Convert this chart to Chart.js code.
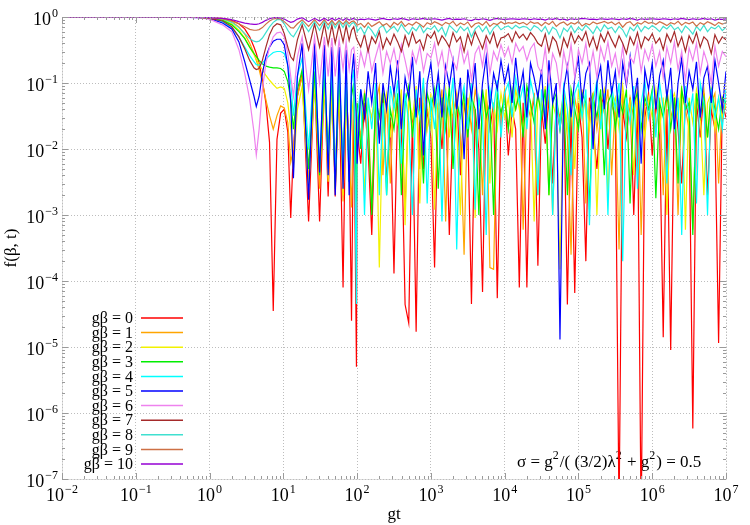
<!DOCTYPE html>
<html>
<head>
<meta charset="utf-8">
<script src="https://cdn.jsdelivr.net/npm/chart.js@4"></script>
<style>html,body{margin:0;background:#fff}</style>
</head>
<body>
<canvas id="c" width="750" height="525"></canvas>
<script>
// sample times gt (shared by all curves)
const gt = [0.01, 0.3, 0.7, 1, 1.5, 2, 2.5, 3, 3.5, 4, 4.3, 4.7, 5.2, 5.8, 6.5, 7.3, 8.2, 9.2, 10.3, 11.5, 12.6, 13.7, 15.5, 18, 22, 26.5, 31, 36, 40.5, 45.5, 50.5, 57, 64.5, 71, 78, 84, 90, 98,
  100, 112, 126, 141, 158, 178, 200, 224, 251, 282, 316, 355, 398, 447, 501, 562, 631, 708, 794, 891,
  1000, 1122, 1259, 1413, 1585, 1778, 1995, 2239, 2512, 2818, 3162, 3548, 3981, 4467, 5012, 5623, 6310, 7079, 7943, 8913,
  1e4, 1.12e4, 1.26e4, 1.41e4, 1.58e4, 1.78e4, 2e4, 2.24e4, 2.51e4, 2.82e4, 3.16e4, 3.55e4, 3.98e4, 4.47e4, 5.01e4, 5.62e4, 6.31e4, 7.08e4, 7.94e4, 8.91e4,
  1e5, 1.12e5, 1.26e5, 1.41e5, 1.58e5, 1.78e5, 2e5, 2.24e5, 2.51e5, 2.82e5, 3.16e5, 3.55e5, 3.98e5, 4.47e5, 5.01e5, 5.62e5, 6.31e5, 7.08e5, 7.94e5, 8.91e5,
  1e6, 1.12e6, 1.26e6, 1.41e6, 1.58e6, 1.78e6, 2e6, 2.24e6, 2.51e6, 2.82e6, 3.16e6, 3.55e6, 3.98e6, 4.47e6, 5.01e6, 5.62e6, 6.31e6, 7.08e6, 7.94e6, 8.91e6,
  1e7];

// f(beta, t) for g*beta = 0 .. 10
const f0 = [1, 1, .995, .989, .955, .89, .79, .66, .5, .35, .28, .2, .11, .05, .0126, 3.5e-5, .014, .035, .04, .018, 9e-4, .01, .063, .14, 8e-4, .126, 8e-4, .126, 1.9e-3, .11, 1.9e-3, .11, 8e-5, .1, .01, 2.5e-5, .079, 5e-6,
  .02, 6e-3, .05, .01, 5e-4, .04, .015, .07, 3e-3, .03,
  1.3e-4, .05, .02, 4.4e-5, 2.3e-5, .03, 1.7e-5, .06, 5e-3, .04,
  .015, 1.6e-4, .05, .01, .07, 5e-4, .03, .06, 4e-3, .05,
  .02, 4.5e-5, .04, .01, 6.8e-5, .06, .02, .05, 5.5e-5, .03,
  .07, 8e-3, .04, .02, 8e-5, .05, 8e-5, .03, .06, 1.7e-4,
  .04, .012, .06, 3e-3, .05, .02, .07, 4.4e-5, .03, 6.6e-5,
  .05, .015, 2e-4, .06, .02, 5e-3, .04, .07, .01, .05,
  .03, 3e-8, .04, .015, .06, 1e-3, .05, 2e-8, .03, .07,
  8e-3, .05, .02, 1.4e-5, .04, 9e-6, .06, .02, 3e-3, .05,
  .03, 5.8e-7, .05, .015, .07, 2e-3, .04, .02, 1.15e-5, .05,
  .03];
const f1 = [1, 1, .995, .989, .933, .85, .71, .55, .4, .28, .22, .16, .1, .056, .032, .02, .032, .045, .042, .025, .0063, .01, .063, .126, .0032, .14, .0025, .126, .005, .11, .004, .1, .0016, .1, .008, .0013, .079, .004,
  .04, .015, .07, .03, 1.5e-3, .05, .09, 4e-3, .06, 3e-3,
  .08, .03, .05, 1.2e-3, .07, .02, .06, 5e-3, .09, .04,
  .02, .07, .035, .08, 8e-4, .05, .03, .07, .015, 2.5e-4,
  .06, .02, .08, .04, 2e-3, .07, 1.6e-4, 1.5e-4, .05, .03,
  .08, .02, .06, .04, .09, 6e-4, .05, .03, .07, 2e-3,
  .06, .025, .08, 1e-3, .05, .03, .07, .015, 2.5e-4, .06,
  .03, .08, 1.5e-3, .05, .07, .02, .06, .035, .08, 4e-3,
  .05, 3e-4, .07, .02, .06, .03, .09, 5e-4, .05, .04,
  .07, .02, .06, 2e-3, .08, .03, .05, 1e-3, .07, .04,
  .02, 6e-4, .06, .03, .08, .015, .05, .07, 3e-3, .06,
  .04];
const f2 = [1, 1, .993, .977, .91, .79, .63, .48, .35, .27, .23, .19, .16, .13, .11, .095, .083, .087, .083, .05, .02, .005, .04, .089, .0025, .1, .005, .089, .0032, .079, .0063, .079, .002, .071, .005, .032, .063, .0025,
  .02, .06, 2e-3, .05, .03, .08, 1.6e-4, .04, .07, .015,
  .05, .025, .08, 7e-4, .06, .03, .09, 1.5e-3, .05, .02,
  .07, 1.2e-3, .05, .03, .08, .015, .06, .02, 1e-3, .07,
  .04, .09, 9e-4, .06, .025, .08, 3e-3, .05, .02, .07,
  .03, .06, .015, .08, .04, .02, .07, .05, 8e-4, .06,
  .04, .09, 2e-3, .05, .03, 1.5e-4, .07, .02, .06, 5e-3,
  .08, .03, .06, .02, .07, 1e-3, .05, .08, 2e-3, .04,
  .06, .02, .09, .03, .05, 4e-3, .07, .04, .015, .06,
  .03, .08, .02, .06, 1e-3, .05, .07, .03, .09, 6e-4,
  .06, .025, .08, .04, 2e-3, .05, .07, .02, .06, .03,
  .05];
const f3 = [1, 1, .99, .977, .89, .76, .6, .47, .35, .28, .25, .22, .195, .18, .174, .17, .17, .166, .15, .105, .056, .02, .079, .16, .005, .15, .004, .14, .01, .126, .0025, .126, .0063, .11, .0032, .063, .1, .0016,
  .05, .01, .07, .025, 1e-3, .06, .03, .08, 2e-3, .04,
  .02, .07, 2e-3, .05, .09, .015, .06, .03, 3e-3, .07,
  .04, .08, 2.5e-3, .06, .02, .09, 5e-3, .05, .03, .07,
  .015, .06, .04, 1e-3, .08, .03, .05, 1e-3, .07, .035,
  .06, .02, .08, .04, .07, .015, .09, .05, .025, .07,
  .03, .08, 2e-3, .05, .07, .02, .06, 2e-3, .08, .04,
  .02, .07, .05, 1.2e-3, .06, .03, .08, 4e-3, .05, .07,
  .02, .06, .035, .08, 1.5e-3, .05, .07, .02, .06, .04,
  .08, 1.8e-3, .05, .03, .07, .02, .06, 3e-3, .08, .04,
  .05, 5e-4, .07, .03, .06, .015, .08, .04, .02, .06,
  .05];
const f4 = [1, 1, .986, .955, .85, .68, .5, .35, .26, .21, .19, .186, .2, .23, .26, .29, .3, .3, .28, .19, .1, .032, .126, .24, .01, .24, .0063, .22, .005, .2, .004, .2, .005, .18, .0032, .1, .16, 4.5e-5,
  .03, .08, 1e-3, .06, .02, .1, 2e-3, .05, 2e-3, .09,
  .04, .11, 6e-3, .07, .025, 1e-3, .08, .03, .12, 1.5e-3,
  .06, .02, .1, 8e-4, .07, .035, .12, 3e-4, .05, .09,
  .02, .1, 1.2e-3, .06, .03, 5e-4, .08, .04, .11, .015,
  .07, .1, .03, .12, .05, .09, .02, .11, .06, 2e-3,
  .08, .03, .1, 1e-3, .06, .02, .09, .04, 4e-3, .07,
  .1, .03, .08, 7e-4, .05, .11, .02, .07, 1e-3, .09,
  .04, .1, 2e-4, .06, .025, .09, 2.5e-3, .05, .11, .03,
  .07, .015, .1, .04, 3e-3, .08, .02, .06, 5e-4, .09,
  .03, .07, 1.5e-3, .1, .05, 1e-3, .08, .03, .06, .02,
  .08];
const f5 = [1, 1, .98, .944, .81, .66, .42, .21, .11, .063, .044, .063, .14, .25, .35, .43, .46, .46, .38, .18, .05, .0036, .126, .4, .0017, .4, .0044, .38, .004, .35, .002, .35, .0025, .32, .002, .126, .28, .025,
  6e-3, .08, .03, .15, .05, .2, .012, .1, .04, .18,
  .07, .22, .02, .12, .06, .25, .03, .15, 8e-3, .1,
  .2, .05, .14, .03, .18, .09, .22, .04, .12, .007,
  .16, .06, .2, .02, .1, .25, .04, .14, .08, .22,
  .1, .18, .05, .24, .07, .15, .03, .2, .12, .06,
  .16, .02, .22, .05, .1, 1.3e-5, .08, .18, .03, .12,
  .24, .05, .14, .2, .01, .1, .18, .04, .22, .07,
  .15, .03, .2, .09, .25, .05, .12, .006, .16, .08,
  .2, .04, .13, .22, .06, .17, .02, .1, .24, .05,
  .15, .08, .21, .03, .12, .18, .05, .22, .1, .04,
  .15];
const f6 = [1, 1, .977, .93, .76, .6, .32, .14, .056, .018, .0081, .02, .079, .2, .35, .5, .575, .59, .5, .28, .126, .063, .25, .5, .079, .5, .1, .5, .126, .48, .126, .45, .16, .42, .16, .32, .35, .16,
  .12, .3, .18, .35, .15, .25, .4, .14, .3, .2,
  .33, .16, .38, .22, .12, .3, .2, .36, .15, .28,
  .24, .4, .18, .3, .13, .35, .22, .16, .38, .2,
  .3, .11, .28, .36, .18, .42, .14, .3, .22, .38,
  .25, .35, .2, .4, .3, .36, .22, .33, .4, .18,
  .14, .34, .1, .28, .2, .08, .3, .16, .38, .12,
  .32, .2, .4, .15, .3, .12, .35, .22, .42, .18,
  .28, .13, .36, .1, .25, .2, .4, .15, .32, .22,
  .38, .18, .3, .12, .35, .2, .42, .16, .3, .11,
  .34, .22, .4, .14, .3, .2, .1, .36, .18, .3,
  .25];
const f7 = [1, 1, .986, .955, .87, .71, .5, .33, .22, .17, .16, .166, .22, .35, .54, .71, .79, .76, .56, .35, .25, .22, .45, .76, .32, .79, .35, .79, .38, .76, .4, .76, .42, .74, .44, .63, .71, .47,
  .45, .35, .55, .3, .5, .4, .6, .33, .48, .38,
  .55, .42, .3, .52, .36, .58, .4, .45, .32, .55,
  .48, .6, .38, .52, .44, .35, .58, .42, .5, .3,
  .55, .38, .6, .45, .33, .52, .4, .58, .35, .48,
  .5, .56, .42, .6, .48, .55, .45, .58, .5, .4,
  .36, .55, .3, .5, .42, .26, .48, .35, .58, .4,
  .52, .44, .6, .36, .5, .32, .55, .42, .6, .45,
  .35, .52, .4, .28, .5, .38, .58, .34, .5, .44,
  .56, .4, .48, .32, .55, .42, .6, .36, .5, .3,
  .52, .4, .58, .35, .5, .44, .28, .54, .4, .5,
  .45];
const f8 = [1, 1, .99, .977, .933, .83, .69, .56, .47, .43, .42, .43, .48, .58, .71, .83, .91, .91, .79, .63, .54, .5, .63, .85, .6, .85, .63, .87, .66, .87, .68, .87, .69, .85, .71, .79, .83, .71,
  .6, .7, .55, .72, .62, .5, .68, .75, .58, .66,
  .72, .6, .78, .64, .55, .7, .62, .76, .58, .68,
  .65, .74, .6, .7, .52, .75, .66, .58, .72, .62,
  .7, .5, .66, .74, .6, .72, .55, .68, .76, .64,
  .7, .73, .66, .75, .68, .72, .7, .62, .74, .69,
  .6, .72, .55, .7, .64, .48, .68, .6, .74, .58,
  .7, .62, .75, .66, .56, .72, .6, .76, .66, .7,
  .58, .72, .64, .5, .7, .62, .76, .6, .72, .66,
  .74, .68, .6, .72, .66, .76, .64, .7, .58, .73,
  .65, .55, .72, .62, .75, .6, .7, .66, .74, .62,
  .7];
const f9 = [1, 1, .99, .973, .933, .87, .79, .71, .65, .63, .63, .645, .69, .78, .87, .933, .955, .933, .85, .76, .69, .68, .79, .91, .72, .91, .74, .91, .76, .89, .76, .89, .78, .89, .79, .85, .87, .79,
  .75, .8, .7, .82, .72, .78, .85, .74, .8, .7,
  .83, .76, .86, .72, .8, .75, .84, .78, .7, .82,
  .77, .85, .8, .74, .83, .78, .86, .73, .81, .76,
  .84, .7, .79, .82, .75, .86, .72, .8, .77, .85,
  .78, .82, .8, .84, .79, .83, .76, .85, .8, .82,
  .74, .83, .77, .86, .72, .8, .84, .75, .82, .78,
  .85, .73, .8, .76, .84, .79, .82, .86, .8, .84,
  .76, .83, .7, .81, .85, .74, .82, .78, .86, .8,
  .83, .77, .85, .8, .74, .82, .78, .86, .75, .83,
  .79, .84, .72, .82, .77, .85, .8, .74, .83, .78,
  .82];
const f10 = [1, 1, .993, .98, .955, .91, .85, .81, .785, .775, .775, .79, .83, .89, .94, .977, .99, .977, .93, .87, .83, .85, .93, .977, .85, .955, .87, .955, .88, .955, .89, .955, .89, .955, .9, .93, .955, .91,
  .9, .93, .91, .94, .92, .9, .93, .95, .92, .91,
  .94, .92, .95, .93, .9, .94, .92, .93, .95, .92,
  .93, .94, .92, .9, .93, .95, .91, .93, .92, .94,
  .9, .88, .93, .91, .94, .92, .89, .93, .95, .93,
  .92, .93, .94, .93, .92, .94, .93, .91, .94, .92,
  .93, .9, .94, .92, .95, .91, .93, .9, .94, .92,
  .93, .95, .94, .92, .93, .91, .94, .93, .92, .94,
  .93, .91, .94, .92, .95, .93, .9, .94, .92, .93,
  .94, .93, .92, .94, .93, .91, .94, .92, .95, .93,
  .91, .94, .92, .93, .95, .92, .94, .9, .93, .92,
  .94];

const series = [f0, f1, f2, f3, f4, f5, f6, f7, f8, f9, f10];
const labels = ["gβ = 0", "gβ = 1", "gβ = 2", "gβ = 3", "gβ = 4", "gβ = 5", "gβ = 6", "gβ = 7", "gβ = 8", "gβ = 9", "gβ = 10"];
const colors = ["#ff0000", "#ffa500", "#f2f200", "#00ee00", "#00ffff", "#0000ff", "#ee82ee", "#a52a2a", "#40e0d0", "#cd7045", "#9400d3"];
const xDecades = [1e-2, 1e-1, 1, 1e1, 1e2, 1e3, 1e4, 1e5, 1e6, 1e7];
const yDecades = [1e-7, 1e-6, 1e-5, 1e-4, 1e-3, 1e-2, 1e-1, 1];

const SERIF = '"Liberation Serif", "Times New Roman", serif';
const GRID = "#bdbdbd";

function powLabel(ctx, x, y, exp, align) {
  ctx.font = "18px " + SERIF;
  const wb = ctx.measureText("10").width;
  ctx.font = "12px " + SERIF;
  const we = ctx.measureText(exp).width;
  const x0 = align === "right" ? x - wb - we - 1 : x - (wb + we + 1) / 2;
  ctx.textAlign = "left";
  ctx.font = "18px " + SERIF;
  ctx.fillText("10", x0, y);
  ctx.font = "12px " + SERIF;
  ctx.fillText(exp, x0 + wb + 1, y - 8);
}

function expText(v) {
  const e = Math.round(Math.log10(v));
  return e < 0 ? "\u2212" + (-e) : String(e);
}

const decor = {
  id: "decor",
  beforeDatasetsDraw(chart) {
    // sigma label, drawn under the curves
    const ctx = chart.ctx;
    ctx.save();
    ctx.fillStyle = "#000";
    ctx.textBaseline = "alphabetic";
    const parts = [["σ = g", 0], ["2", 1], ["/( (3/2)λ", 0], ["2", 1], [" + g", 0], ["2", 1], [") = 0.5", 0]];
    let x = 517;
    parts.forEach(([s, sup]) => {
      ctx.font = (sup ? "12px " : "17px ") + SERIF;
      ctx.fillText(s, x, sup ? 459 : 467);
      x += ctx.measureText(s).width + (sup ? 1 : 0);
    });
    ctx.restore();
  },
  afterDatasetsDraw(chart) {
    // key at lower left
    const ctx = chart.ctx;
    ctx.save();
    chart.data.datasets.forEach((ds, i) => {
      const y = 318 + i * 14.6;
      ctx.font = "16px " + SERIF;
      ctx.fillStyle = "#000";
      ctx.textAlign = "right";
      ctx.textBaseline = "middle";
      ctx.fillText(ds.label, 133, y + 1);
      ctx.strokeStyle = ds.borderColor;
      ctx.lineWidth = 1.5;
      ctx.beginPath();
      ctx.moveTo(141, y);
      ctx.lineTo(183, y);
      ctx.stroke();
    });
    ctx.restore();
  },
  afterDraw(chart) {
    const ctx = chart.ctx;
    const a = chart.chartArea;
    const xs = chart.scales.x, ys = chart.scales.y;
    ctx.save();
    // dotted border
    ctx.strokeStyle = GRID;
    ctx.lineWidth = 1;
    ctx.setLineDash([1, 2]);
    ctx.strokeRect(a.left + 0.5, a.top + 0.5, a.right - a.left, a.bottom - a.top);
    ctx.setLineDash([]);
    // inward tics
    ctx.strokeStyle = "#9a9a9a";
    ctx.beginPath();
    xDecades.forEach((d, i) => {
      for (let m = 1; m <= 9; m++) {
        const v = d * m;
        if (v > 1e7 || (m > 1 && i === xDecades.length - 1)) continue;
        const px = Math.round(xs.getPixelForValue(v)) + 0.5;
        const len = m === 1 ? 6 : 3;
        ctx.moveTo(px, a.bottom); ctx.lineTo(px, a.bottom - len);
        ctx.moveTo(px, a.top); ctx.lineTo(px, a.top + len);
      }
    });
    yDecades.forEach((d, i) => {
      for (let m = 1; m <= 9; m++) {
        const v = d * m;
        if (m > 1 && i === yDecades.length - 1) continue;
        const py = Math.round(ys.getPixelForValue(v)) + 0.5;
        const len = m === 1 ? 6 : 3;
        ctx.moveTo(a.left, py); ctx.lineTo(a.left + len, py);
        ctx.moveTo(a.right, py); ctx.lineTo(a.right - len, py);
      }
    });
    ctx.stroke();
    // tick labels
    ctx.fillStyle = "#000";
    ctx.textBaseline = "alphabetic";
    xDecades.forEach(v => powLabel(ctx, xs.getPixelForValue(v), 501, expText(v), "center"));
    yDecades.forEach(v => powLabel(ctx, 58, ys.getPixelForValue(v) + 8, expText(v), "right"));
    // axis titles
    ctx.font = "17px " + SERIF;
    ctx.textAlign = "center";
    ctx.fillText("gt", (a.left + a.right) / 2, 519);
    ctx.translate(16, (a.top + a.bottom) / 2);
    ctx.rotate(-Math.PI / 2);
    ctx.fillText("f(β, t)", 0, 0);
    ctx.restore();
  }
};

const datasets = series.map((ys, i) => ({
  label: labels[i],
  data: gt.map((x, j) => ({ x: x, y: ys[j] })),
  borderColor: colors[i],
  borderWidth: 1.2,
  pointRadius: 0,
  tension: 0,
  fill: false,
  order: 10 - i
}));

const decadeGrid = ctx => {
  const v = ctx.tick && ctx.tick.value;
  if (!v) return "rgba(0,0,0,0)";
  const l = Math.log10(v);
  return Math.abs(l - Math.round(l)) < 1e-6 ? GRID : "rgba(0,0,0,0)";
};

new Chart(document.getElementById("c"), {
  type: "line",
  data: { datasets },
  options: {
    responsive: false,
    animation: false,
    devicePixelRatio: 1,
    parsing: true,
    layout: { padding: { top: 17, right: 24, left: 0, bottom: 0 } },
    plugins: { legend: { display: false }, tooltip: { enabled: false } },
    scales: {
      x: {
        type: "logarithmic", min: 1e-2, max: 1e7,
        afterBuildTicks: s => { s.ticks = xDecades.map(v => ({ value: v })); },
        afterFit: s => { s.height = 46; },
        ticks: { display: false },
        grid: { color: decadeGrid, drawTicks: false, lineWidth: 1 },
        border: { display: false, dash: [1, 2] }
      },
      y: {
        type: "logarithmic", min: 1e-7, max: 1,
        afterBuildTicks: s => { s.ticks = yDecades.map(v => ({ value: v })); },
        afterFit: s => { s.width = 62; },
        ticks: { display: false },
        grid: { color: decadeGrid, drawTicks: false, lineWidth: 1 },
        border: { display: false, dash: [1, 2] }
      }
    }
  },
  plugins: [decor]
});
</script>
</body>
</html>
